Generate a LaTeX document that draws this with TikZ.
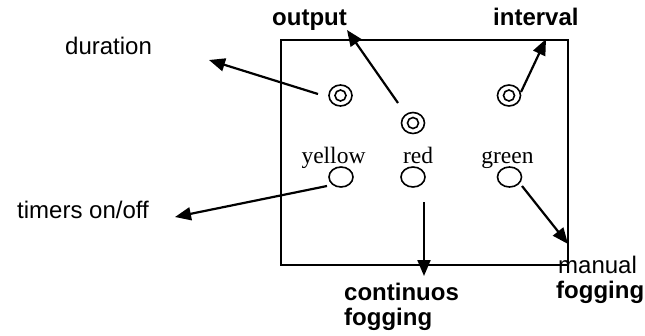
\documentclass[tikz,border=0pt]{standalone}
\usepackage{fontspec}
\setmainfont{Liberation Serif}
\setsansfont{Liberation Sans}
\usetikzlibrary{arrows.meta,shapes.geometric}
\begin{document}
\begin{tikzpicture}[x=1pt,y=-1pt,
  lbl/.style={font=\fontsize{24}{25}\selectfont\sffamily, inner sep=0pt, anchor=base west},
  blbl/.style={font=\fontsize{24}{25}\selectfont\sffamily\bfseries, inner sep=0pt, anchor=base west},
  col/.style={font=\fontsize{23.5}{25}\selectfont\rmfamily, inner sep=0pt, anchor=base},
  knob/.style={draw, ellipse, line width=1.6pt, minimum width=23pt, minimum height=21pt, inner sep=0pt},
  lamp/.style={draw, ellipse, line width=1.6pt, minimum width=24pt, minimum height=20pt, inner sep=0pt},
  arr/.style={line width=2.2pt, -{Triangle[length=16pt,width=13pt]}}]
\useasboundingbox (0,0) rectangle (645,335);
% panel
\draw[line width=2pt] (281,40) rectangle (568,265);
% knobs
\node[knob] (dur) at (340.5,95.5) {};
\node[knob] (out) at (413,123) {};
\node[knob] (int) at (509,95.5) {};
\foreach \n in {dur,out,int} \draw[line width=1.6pt] (\n.center) circle[radius=5.5pt];
% lamps
\node[lamp] (yl) at (341,177) {};
\node[lamp] (rl) at (413,177) {};
\node[lamp] (gl) at (509.5,177) {};
% colour labels
\node[col] (ytx) at (333.5,163) {yellow};
\node[col] (rtx) at (418,163) {red};
\node[col] (gtx) at (507.5,163) {green};
% outer labels
\node[lbl] (durl) at (65,54) {duration};
\node[lbl] (tim) at (17,218) {timers on/off};
\node[blbl] (outl) at (272,25) {output};
\node[blbl] (intl) at (493,25) {interval};
\node[blbl] (con1) at (344,300) {continuos};
\node[blbl] (con2) at (344,325) {fogging};
\node[lbl] (man1) at (558,273) {manual};
\node[blbl] (man2) at (556,298) {fogging};
% connector end points
\coordinate (durS) at (318,94);
\coordinate (durE) at (209,60);
\coordinate (outS) at (398,103);
\coordinate (outE) at (347,30);
\coordinate (intS) at (521,92);
\coordinate (intE) at (546,39);
\coordinate (timS) at (327,186);
\coordinate (timE) at (175,217);
\coordinate (conS) at (424,202);
\coordinate (conE) at (424,276);
\coordinate (manS) at (522,186);
\coordinate (manE) at (568,244);
% connectors
\draw[arr] (durS) -- (durE);
\draw[arr] (outS) -- (outE);
\draw[arr] (intS) -- (intE);
\draw[arr] (timS) -- (timE);
\draw[arr] (conS) -- (conE);
\draw[arr] (manS) -- (manE);
\end{tikzpicture}
\end{document}
